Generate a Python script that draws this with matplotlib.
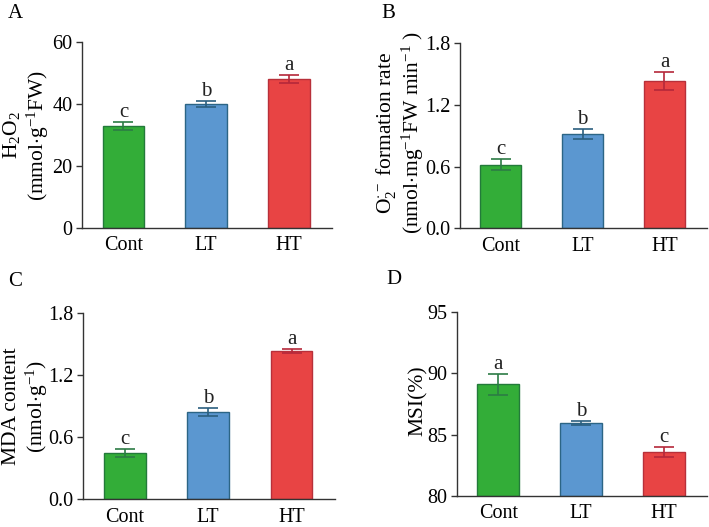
import matplotlib
matplotlib.use("Agg")
import matplotlib.pyplot as plt

plt.rcParams['font.family'] = ['Liberation Serif', 'DejaVu Serif']
plt.rcParams['mathtext.fontset'] = 'custom'
plt.rcParams['mathtext.rm'] = 'Liberation Serif'
plt.rcParams['mathtext.it'] = 'Liberation Serif:italic'

categories = ["Cont", "LT", "HT"]

h2o2 = [32.9, 40.0, 48.0]
h2o2_err = [1.3, 1.1, 1.3]
h2o2_sig = ["c", "b", "a"]

o2 = [0.62, 0.92, 1.435]
o2_err = [0.05, 0.05, 0.09]
o2_sig = ["c", "b", "a"]

mda = [0.445, 0.845, 1.433]
mda_err = [0.04, 0.04, 0.02]
mda_sig = ["c", "b", "a"]

msi = [89.1, 85.92, 83.58]
msi_err = [0.85, 0.18, 0.4]
msi_sig = ["a", "b", "c"]

fills = ["#33ad38", "#5b97d0", "#e84444"]
edges = ["#237a3a", "#2c6585", "#b8303a"]
errc = ["#2c7c45", "#2b5f7f", "#b5283a"]

fig = plt.figure(figsize=(7.09, 5.27), dpi=100)
W, H = 709, 527

def make_ax(x0, x1, ytop, ybot):
    return fig.add_axes([x0 / W, 1 - ybot / H, (x1 - x0) / W, (ybot - ytop) / H])

panels = [
    (make_ax(82, 332, 42, 228), h2o2, h2o2_err, h2o2_sig, (0, 60), [0, 20, 40, 60], "{:.0f}",
     "$\\mathrm{H_2O_2}$\n(mmol$\\cdot$g$^{-1}$FW)", (26, 135), "A", (8, 13)),
    (make_ax(460, 707, 43.3, 228.3), o2, o2_err, o2_sig, (0, 1.8), [0, 0.6, 1.2, 1.8], "{:.1f}",
     "$\\mathrm{O_2^{\\cdot -}}$ formation rate\n(nmol$\\cdot$mg$^{-1}$FW min$^{-1}$ )", (400, 133), "B", (381, 13)),
    (make_ax(83, 335, 313.3, 499.3), mda, mda_err, mda_sig, (0, 1.8), [0, 0.6, 1.2, 1.8], "{:.1f}",
     "MDA content\n(nmol$\\cdot$g$^{-1}$)", (26, 406), "C", (8, 281)),
    (make_ax(456.7, 707, 311.7, 496), msi, msi_err, msi_sig, (80, 95), [80, 85, 90, 95], "{:.0f}",
     "MSI(%)", (418, 401), "D", (386, 280)),
]

for ax, vals, errs, sig, ylim, yt, fmt, ylabel, lab_pos, letter, lpos in panels:
    x = list(range(len(categories)))
    ax.bar(x, [v - ylim[0] for v in vals], bottom=ylim[0], width=0.5,
           color=fills, edgecolor=edges, linewidth=1.0, zorder=2)
    for i in x:
        ax.errorbar(i, vals[i], yerr=errs[i], color=errc[i], capsize=7.5,
                    elinewidth=1.2, capthick=1.2, zorder=3)
        ax.text(i, vals[i] + errs[i], sig[i], ha="center", va="bottom",
                fontsize=15, color="#222222")
    ax.set_xlim(-0.5, 2.52)
    ax.set_ylim(*ylim)
    ax.set_yticks(yt)
    ax.set_yticklabels([fmt.format(v) for v in yt])
    ax.set_xticks(x)
    ax.set_xticklabels(categories)
    ax.tick_params(axis="x", length=0, labelsize=14.5, pad=6)
    ax.tick_params(axis="y", direction="out", length=4, width=1, labelsize=14.5,
                   color="#333333", pad=3)
    for s in ("top", "right"):
        ax.spines[s].set_visible(False)
    for s in ("left", "bottom"):
        ax.spines[s].set_color("#333333")
        ax.spines[s].set_linewidth(1.0)
    fig.text(lab_pos[0] / W, 1 - lab_pos[1] / H, ylabel, fontsize=15.5, rotation=90,
             ha="center", va="center", linespacing=1.1, multialignment="center")
    fig.text(lpos[0] / W, 1 - lpos[1] / H, letter, fontsize=15, ha="left", va="center")

fig.savefig("out.png", dpi=100)
